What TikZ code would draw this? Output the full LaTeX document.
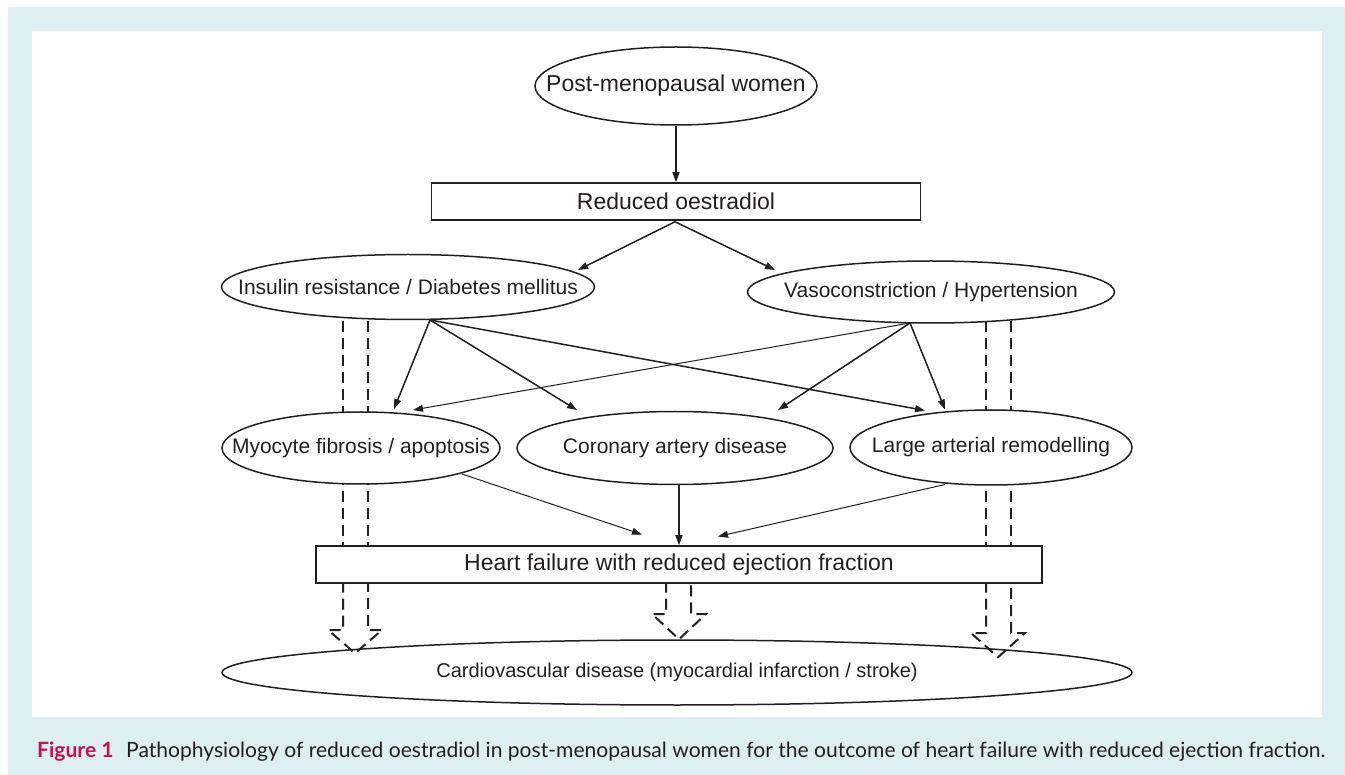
\documentclass[tikz,border=0pt]{standalone}
\usepackage{fontspec}
\setmainfont{Liberation Sans}
\newfontfamily\capfont{Lato}
\usetikzlibrary{arrows.meta,shapes.geometric,calc}
\pgfdeclarelayer{paper}
\pgfdeclarelayer{background}
\pgfsetlayers{paper,background,main}
\definecolor{panel}{RGB}{222,239,244}
\definecolor{ink}{RGB}{35,31,32}
\definecolor{capred}{RGB}{200,16,78}
\newcommand{\zw}[1]{\makebox[0pt]{#1}}
\tikzset{
  ell/.style={ellipse, draw=ink, line width=1.5pt, fill=white, inner sep=0pt, text=ink},
  rbox/.style={rectangle, draw=ink, line width=1.5pt, fill=white, inner sep=0pt, text=ink},
  arr/.style={draw=ink, line width=1.5pt, -{Triangle[length=10pt,width=7pt]}},
  tarr/.style={draw=ink, line width=1pt, -{Triangle[length=10pt,width=7pt]}},
  dsh/.style={draw=ink, line width=2pt, dash pattern=on 11pt off 6pt},
  big/.style={font=\fontsize{23}{27}\selectfont},
  mid/.style={font=\fontsize{21}{25}\selectfont},
  sml/.style={font=\fontsize{20}{24}\selectfont}
}
\begin{document}
\begin{tikzpicture}[x=1pt,y=-1pt]
\useasboundingbox (0,0) rectangle (1345,775);
\begin{pgfonlayer}{paper}
\fill[white] (0,0) rectangle (1345,775);
\fill[panel] (8,7) rectangle (1345,775);
\fill[white] (32,31) rectangle (1322,717);
\end{pgfonlayer}

% nodes
\node[ell, big, minimum width=282pt, minimum height=78pt] (pmw) at (676,86) {\zw{Post-menopausal women}};
\node[rbox, big, minimum width=489pt, minimum height=37pt] (ro) at (676,201.5) {\zw{Reduced oestradiol}};
\node[ell, mid, minimum width=373pt, minimum height=65pt] (ins) at (408,287) {\zw{Insulin resistance / Diabetes mellitus}};
\node[ell, mid, minimum width=367pt, minimum height=62pt] (vas) at (931,292) {\zw{Vasoconstriction / Hypertension}};
\node[ell, mid, minimum width=278pt, minimum height=72pt] (myo) at (361,448) {\zw{Myocyte fibrosis / apoptosis}};
\node[ell, mid, minimum width=316pt, minimum height=73pt] (cor) at (675,448) {\zw{Coronary artery disease}};
\node[ell, mid, minimum width=282pt, minimum height=75pt] (lar) at (991,447.5) {\zw{Large arterial remodelling}};
\node[rbox, big, minimum width=726pt, minimum height=37pt] (hf) at (679,564.5) {\zw{Heart failure with reduced ejection fraction}};
\node[ell, sml, fill=none, minimum width=910pt, minimum height=65pt] (cvd) at (677,672.5) {\zw{Cardiovascular disease (myocardial infarction / stroke)}};

% dashed double shafts (behind the filled nodes)
\begin{pgfonlayer}{background}
\foreach \xx in {343,368,986,1011}{
  \draw[dsh] (ins.center -| \xx,0) -- (hf.center -| \xx,0);
}
\draw[dsh] (hf.center -| 343,0) -- (343,630) -- (328,630) -- ($(cvd.north -| 355,0)+(0,14)$) -- (382,630) -- (368,630) -- (hf.center -| 368,0);
\draw[dsh] (hf.center -| 666,0) -- (666,614) -- (652,614) -- (cvd.north -| 679,0) -- (706,614) -- (691,614) -- (hf.center -| 691,0);
\draw[dsh] (hf.center -| 986,0) -- (986,633) -- (971,633) -- ($(cvd.north -| 998,0)+(0,18)$) -- (1025,633) -- (1011,633) -- (hf.center -| 1011,0);
\end{pgfonlayer}

% arrows
\draw[arr] (pmw.south) -- (ro.north);
\draw[arr] ($(ro.south)+(-1,1)$) -- ($(ins.center)+(170,-17)$);
\draw[arr] ($(ro.south)+(-1,1)$) -- ($(vas.center)+(-156,-22)$);
\draw[arr] ($(ins.center)+(22,33)$) -- ($(myo.center)+(33,-39)$);
\draw[arr] ($(ins.center)+(22,33)$) -- ($(cor.center)+(-98,-38)$);
\draw[arr] ($(ins.center)+(22,33)$) -- ($(lar.center)+(-66,-37)$);
\draw[tarr] ($(vas.center)+(-21,31)$) -- ($(myo.center)+(52,-38)$);
\draw[arr] ($(vas.center)+(-21,31)$) -- ($(cor.center)+(103,-38)$);
\draw[arr] ($(vas.center)+(-21,31)$) -- ($(lar.center)+(-46,-38)$);
\draw[tarr] ($(myo.center)+(101,26)$) -- ($(hf.center)+(-37,-30)$);
\draw[arr] (cor.south -| hf.center) -- (hf.north);
\draw[tarr] ($(lar.center)+(-46,37)$) -- ($(hf.center)+(39,-28)$);

% caption
\node[anchor=base west, inner sep=0pt] (cap) at (37,757)
  {\resizebox{1288pt}{!}{\capfont\fontsize{21}{25}\selectfont\textcolor{capred}{\bfseries Figure 1}\hspace{0.6em}\textcolor{ink}{Pathophysiology of reduced oestradiol in post-menopausal women for the outcome of heart failure with reduced ejection fraction.}}};
\end{tikzpicture}
\end{document}
